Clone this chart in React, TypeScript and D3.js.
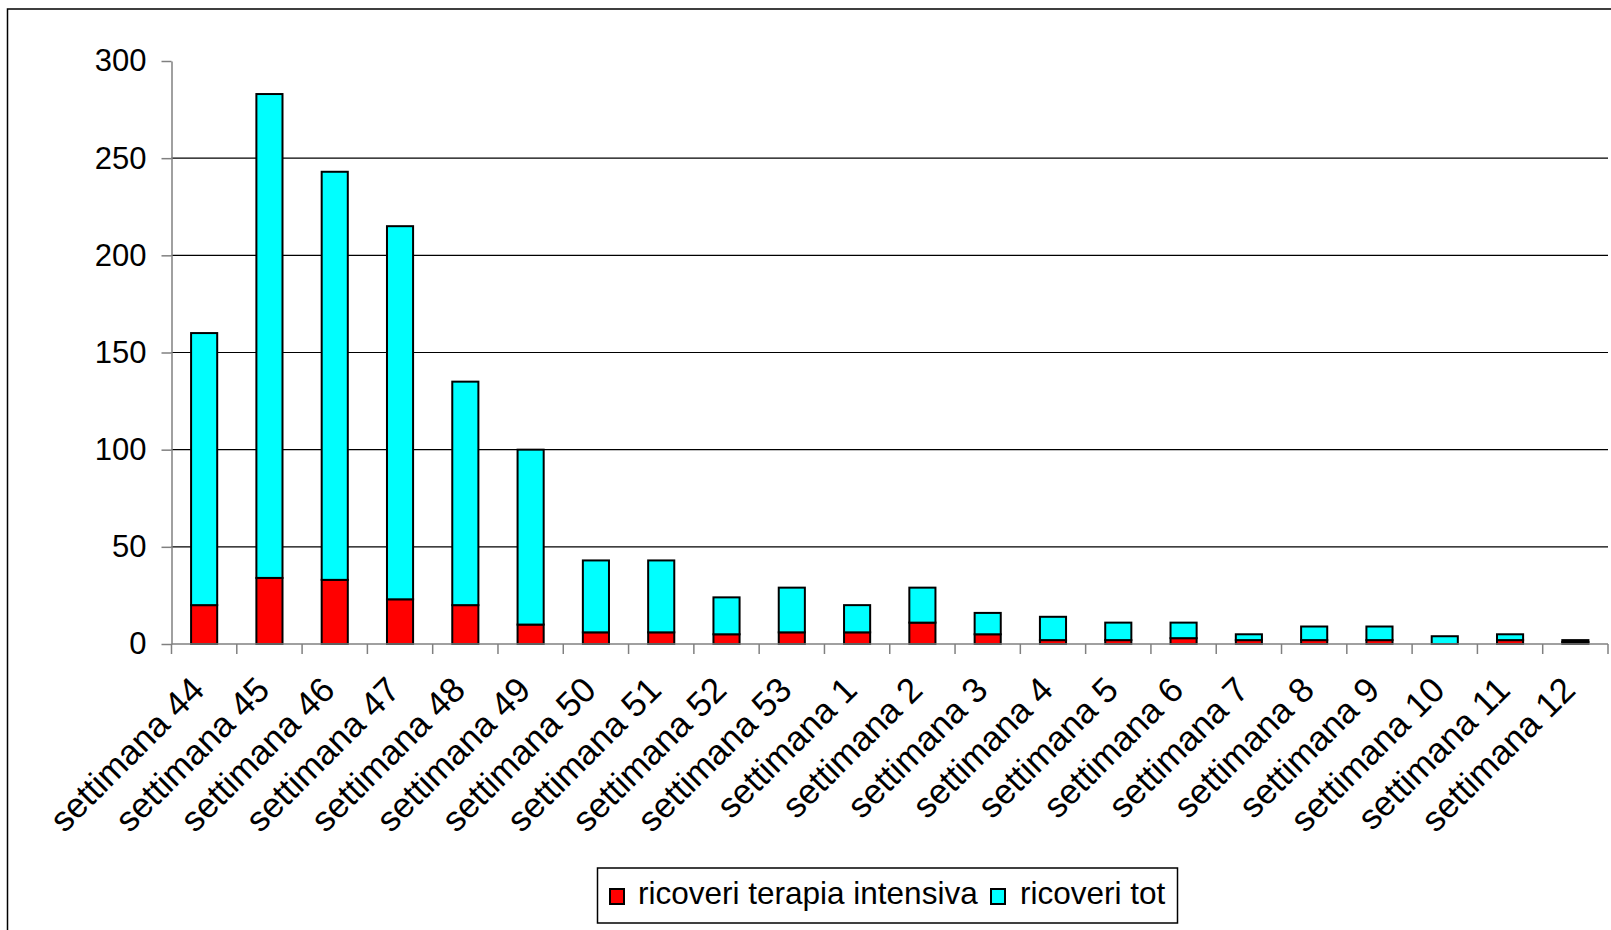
import { useEffect, useRef } from 'react'
import * as d3 from 'd3'

// week labels along the x axis
const weeks = [
  'settimana 44', 'settimana 45', 'settimana 46', 'settimana 47', 'settimana 48',
  'settimana 49', 'settimana 50', 'settimana 51', 'settimana 52', 'settimana 53',
  'settimana 1', 'settimana 2', 'settimana 3', 'settimana 4', 'settimana 5',
  'settimana 6', 'settimana 7', 'settimana 8', 'settimana 9', 'settimana 10',
  'settimana 11', 'settimana 12'
]

// red segment (bottom of stack)
const intensiva = [20, 34, 33, 23, 20, 10, 6, 6, 5, 6, 6, 11, 5, 2, 2, 3, 2, 2, 2, 0, 2, 1]
// cyan segment (stacked on top)
const ricoveriTot = [140, 249, 210, 192, 115, 90, 37, 37, 19, 23, 14, 18, 11, 12, 9, 8, 3, 7, 7, 4, 3, 1]

const yTicks = [0, 50, 100, 150, 200, 250, 300]
const gridValues = [50, 100, 150, 200, 250]

const seriesNames = ['ricoveri terapia intensiva', 'ricoveri tot']
const seriesColors = ['#ff0000', '#00ffff']

const FONT = '"Liberation Sans", Arial, sans-serif'

export default function App() {
  const svgRef = useRef<SVGSVGElement>(null)

  useEffect(() => {
    if (!svgRef.current) return
    const svg = d3.select(svgRef.current)
    svg.selectAll('*').remove()

    const left = 171.5
    const right = 1608
    const bottom = 644
    const top = 61

    const x = d3.scaleBand<string>().domain(weeks).range([left, right]).padding(0)
    const y = d3.scaleLinear().domain([0, 300]).range([bottom, top])
    const step = x.step()

    // outer frame
    svg.append('rect')
      .attr('x', 7.5)
      .attr('y', 9)
      .attr('width', 1700)
      .attr('height', 1000)
      .attr('fill', '#fff')
      .attr('stroke', '#000')
      .attr('stroke-width', 1.5)

    // gridlines
    svg.append('g')
      .selectAll('line')
      .data(gridValues)
      .join('line')
      .attr('x1', left)
      .attr('x2', right)
      .attr('y1', d => y(d))
      .attr('y2', d => y(d))
      .attr('stroke', '#000')
      .attr('stroke-width', 1.2)

    // y axis
    const yAxis = svg.append('g')
      .attr('transform', `translate(${left},0)`)
      .call(d3.axisLeft(y).tickValues(yTicks).tickSize(10).tickSizeOuter(0).tickPadding(15))
    yAxis.select('.domain').attr('stroke', '#808080').attr('stroke-width', 1.5)
    yAxis.selectAll('.tick line').attr('stroke', '#808080').attr('stroke-width', 1.5)
    yAxis.selectAll('.tick text')
      .attr('font-family', FONT)
      .attr('font-size', 31)
      .attr('fill', '#000')

    // stacked bars
    const rows = weeks.map((w, i) => ({ week: w, intensiva: intensiva[i], tot: ricoveriTot[i] }))
    const stack = d3.stack<any>().keys(['intensiva', 'tot'])
    const layers = stack(rows)

    svg.append('g')
      .selectAll('g')
      .data(layers)
      .join('g')
      .attr('fill', (_, i) => seriesColors[i])
      .selectAll('rect')
      .data(d => d.filter(p => p[1] - p[0] > 0))
      .join('rect')
      .attr('x', d => (x(d.data.week) as number) + step * 0.3)
      .attr('width', step * 0.4)
      .attr('y', d => y(d[1]))
      .attr('height', d => y(d[0]) - y(d[1]))
      .attr('stroke', '#000')
      .attr('stroke-width', 2)

    // x axis line and ticks at band boundaries
    svg.append('line')
      .attr('x1', left)
      .attr('x2', right)
      .attr('y1', bottom)
      .attr('y2', bottom)
      .attr('stroke', '#808080')
      .attr('stroke-width', 1.5)

    svg.append('g')
      .selectAll('line')
      .data(d3.range(weeks.length + 1))
      .join('line')
      .attr('x1', i => left + i * step)
      .attr('x2', i => left + i * step)
      .attr('y1', bottom)
      .attr('y2', bottom + 10)
      .attr('stroke', '#808080')
      .attr('stroke-width', 1.5)

    // rotated week labels
    svg.append('g')
      .selectAll('text')
      .data(weeks)
      .join('text')
      .attr('transform', d => `translate(${(x(d) as number) + step / 2 + 2},${bottom + 48}) rotate(-45)`)
      .attr('text-anchor', 'end')
      .attr('font-family', FONT)
      .attr('font-size', 35)
      .attr('fill', '#000')
      .text(d => d)

    // legend
    const legend = svg.append('g')
    legend.append('rect')
      .attr('x', 597.5)
      .attr('y', 868)
      .attr('width', 580)
      .attr('height', 55)
      .attr('fill', '#fff')
      .attr('stroke', '#000')
      .attr('stroke-width', 1.5)

    const keyX = [610, 991]
    const textX = [638, 1020]
    seriesNames.forEach((name, i) => {
      legend.append('rect')
        .attr('x', keyX[i])
        .attr('y', 889)
        .attr('width', 14)
        .attr('height', 15)
        .attr('fill', seriesColors[i])
        .attr('stroke', '#000')
        .attr('stroke-width', 2)
      legend.append('text')
        .attr('x', textX[i])
        .attr('y', 904)
        .attr('font-family', FONT)
        .attr('font-size', 31.5)
        .attr('fill', '#000')
        .text(name)
    })
  }, [])

  return (
    <>
      <style>{'body{margin:0}'}</style>
      <svg ref={svgRef} width={1611} height={930} style={{ display: 'block' }} />
    </>
  )
}
